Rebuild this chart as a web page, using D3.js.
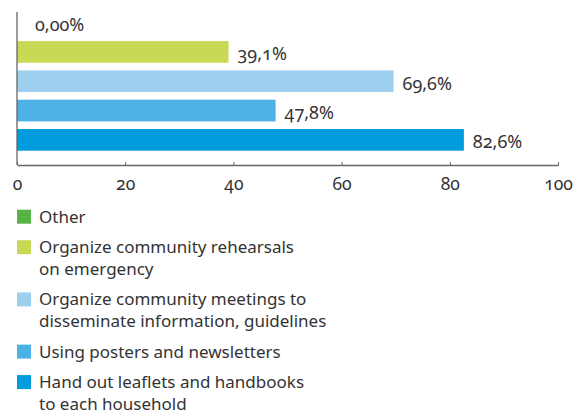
<!DOCTYPE html>
<html>
<head>
<meta charset="utf-8">
<script src="https://cdn.jsdelivr.net/npm/d3@7"></script>
<style>
  body { margin: 0; background: #fff; }
  svg text { font-family: "Noto Sans", "Open Sans", sans-serif; fill: #333; font-variant-numeric: oldstyle-nums; }
</style>
</head>
<body>
<svg id="chart"></svg>
<script>
const categories = ['Other', 'Rehearsals', 'Meetings', 'Posters', 'Leaflets'];
const values = [0, 39.1, 69.6, 47.8, 82.6];
const valueLabels = ['0,00%', '39,1%', '69,6%', '47,8%', '82,6%'];
const colors = ['#58b347', '#c9d955', '#9ecfee', '#4db3e6', '#009cdc'];
const legendLines = [
  ['Other'],
  ['Organize community rehearsals', 'on emergency'],
  ['Organize community meetings to', 'disseminate information, guidelines'],
  ['Using posters and newsletters'],
  ['Hand out leaflets and handbooks', 'to each household']
];
const ticks = [0, 20, 40, 60, 80, 100];

(() => {
  const width = 574;
  const height = 414;
  const axisY = 165;

  const svg = d3.select('svg#chart')
    .attr('width', width)
    .attr('height', height);

  const xScale = d3.scaleLinear()
    .domain([0, 100])
    .range([17, 558]);

  const yScale = d3.scaleBand()
    .domain(categories)
    .range([8, 154.5])
    .paddingInner(0.26)
    .paddingOuter(0.13);

  // bars
  svg.selectAll('rect.bar')
    .data(categories)
    .enter()
    .append('rect')
    .attr('class', 'bar')
    .attr('x', xScale(0))
    .attr('y', d => yScale(d))
    .attr('width', (d, i) => xScale(values[i]) - xScale(0))
    .attr('height', yScale.bandwidth())
    .attr('fill', (d, i) => colors[i]);

  // value labels
  svg.selectAll('text.value')
    .data(categories)
    .enter()
    .append('text')
    .attr('class', 'value')
    .attr('x', (d, i) => Math.max(xScale(values[i]) + 9, xScale(0) + 18))
    .attr('y', d => yScale(d) + yScale.bandwidth() / 2 + 2)
    .attr('dy', '0.35em')
    .style('font-size', '18px')
    .text((d, i) => valueLabels[i]);

  // x axis, ticks pointing up
  const xAxis = svg.append('g')
    .attr('transform', `translate(0,${axisY})`)
    .call(d3.axisBottom(xScale).tickValues(ticks).tickSize(-3).tickSizeOuter(0).tickPadding(13).tickFormat(d3.format('d')));
  xAxis.select('.domain').attr('stroke', '#666').attr('stroke-width', 1.3);
  xAxis.selectAll('.tick line').attr('stroke', '#666');
  xAxis.selectAll('.tick text').style('font-size', '17.5px').attr('fill', '#333');

  // y axis line
  svg.append('line')
    .attr('x1', xScale(0)).attr('x2', xScale(0))
    .attr('y1', 12).attr('y2', axisY)
    .attr('stroke', '#666')
    .attr('stroke-width', 1.3);

  // legend
  const lineHeight = 21.7;
  const itemGap = 30.5;
  let cy = 216.7;
  const legend = svg.append('g');
  legendLines.forEach((lines, i) => {
    legend.append('rect')
      .attr('x', 17)
      .attr('y', cy - 7)
      .attr('width', 14)
      .attr('height', 14)
      .attr('fill', colors[i]);
    lines.forEach((line, j) => {
      legend.append('text')
        .attr('x', 39)
        .attr('y', cy + j * lineHeight)
        .attr('dy', '0.35em')
        .style('font-size', '17px')
        .text(line);
    });
    cy += (lines.length - 1) * lineHeight + itemGap;
  });
})();
</script>
</body>
</html>
